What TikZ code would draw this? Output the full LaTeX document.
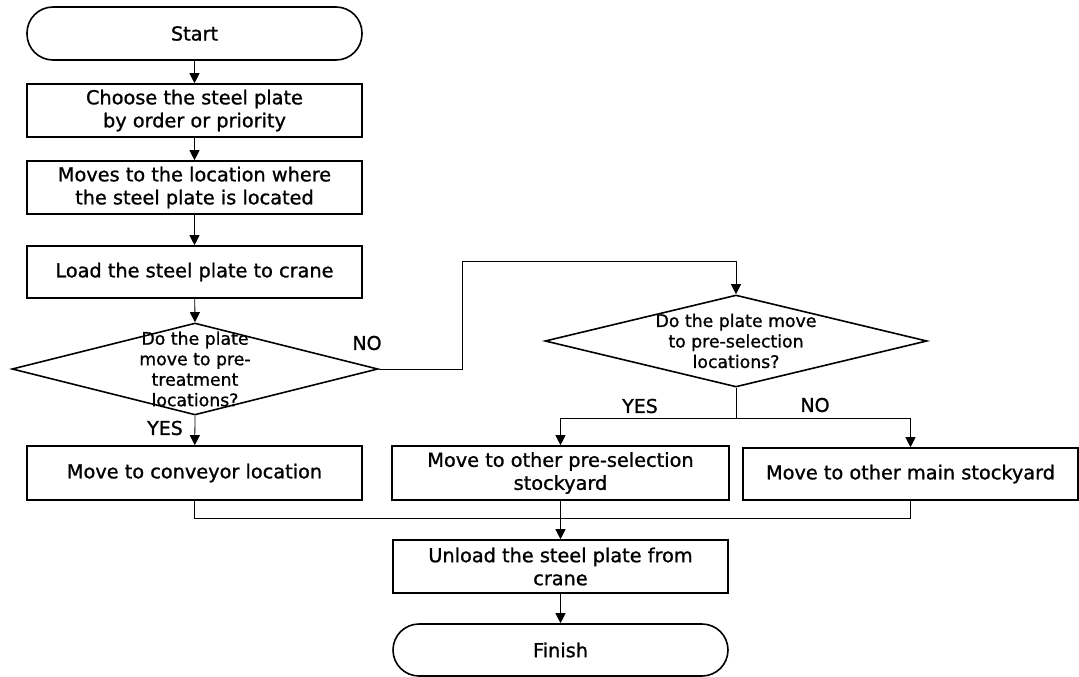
\documentclass[tikz,border=0pt]{standalone}
\usepackage{fontspec}
\setmainfont{DejaVu Sans}
\newfontfamily\flowfont[FakeBold=1.1]{DejaVu Sans}
\usetikzlibrary{shapes.geometric,arrows.meta}

\tikzset{
  boxtext/.style={font=\flowfont\fontsize{19.3}{23}\selectfont},
  smalltext/.style={font=\flowfont\fontsize{17.3}{20.5}\selectfont},
  proc/.style={draw, line width=1.6pt, rectangle, inner sep=0pt,
    align=center, boxtext, minimum width=335pt, minimum height=53pt},
  term/.style={proc, rounded corners=26pt},
  decision/.style={draw, line width=1.6pt, diamond, inner sep=0pt},
  flow/.style={line width=0.8pt, -{Triangle[length=10pt,width=10pt]}},
  plain/.style={line width=0.8pt},
  answer/.style={font=\flowfont\fontsize{19}{20}\selectfont, inner sep=0pt}
}

\begin{document}
\begin{tikzpicture}[x=1pt,y=-1pt]
\useasboundingbox (0,0) rectangle (1079,677);

% left column
\node[term] (start) at (194.5,33.5) {Start};
\node[proc] (choose) at (194.5,110.5) {Choose the steel plate\\by order or priority};
\node[proc] (moveto) at (194.5,187.5) {Moves to the location where\\the steel plate is located};
\node[proc, minimum height=52pt] (load) at (194.5,272) {Load the steel plate to crane};
\node[decision, minimum width=366pt, minimum height=92pt,
  label={[smalltext, align=center]center:Do the plate\\move to pre-\\treatment\\locations?}]
  (pretreat) at (195,369) {};
\node[proc, minimum height=54pt] (conveyor) at (194.5,473) {Move to conveyor location};

% right branch
\node[decision, minimum width=382pt, minimum height=92pt,
  label={[smalltext, align=center]center:Do the plate move\\to pre-selection\\locations?}]
  (presel) at (736,341) {};
\node[proc, minimum width=337pt, minimum height=54pt] (otherpre) at (560.5,473) {Move to other pre-selection\\stockyard};
\node[proc, minimum height=52pt] (othermain) at (910.5,474) {Move to other main stockyard};

% final steps
\node[proc] (unload) at (560.5,566.5) {Unload the steel plate from\\crane};
\node[term, minimum height=52pt] (finish) at (560.5,650) {Finish};

% routing points
\coordinate (noturn) at (462,261);
\coordinate (split) at (736,418);
\coordinate (merge) at (560.5,518);

% connectors
\draw[flow] (start) -- (choose);
\draw[flow] (choose) -- (moveto);
\draw[flow] (moveto) -- (load);
\draw[flow] (load) -- (pretreat.north);
\draw[flow] (pretreat.south) -- (conveyor);
\draw[plain] (pretreat.east) -| (noturn);
\draw[flow] (noturn) -| (presel.north);
\draw[plain] (presel.south) -- (split);
\draw[flow] (split) -| (otherpre.north);
\draw[flow] (split) -| (othermain.north);
\draw[plain] (conveyor.south) |- (merge);
\draw[plain] (othermain.south) |- (merge);
\draw[flow] (otherpre.south) -- (unload.north);
\draw[flow] (unload) -- (finish);

% branch labels
\node[answer] (no1) at (367,343) {NO};
\node[answer] (yes1) at (165,428) {YES};
\node[answer] (yes2) at (640,406) {YES};
\node[answer] (no2) at (815,405) {NO};
\end{tikzpicture}
\end{document}
